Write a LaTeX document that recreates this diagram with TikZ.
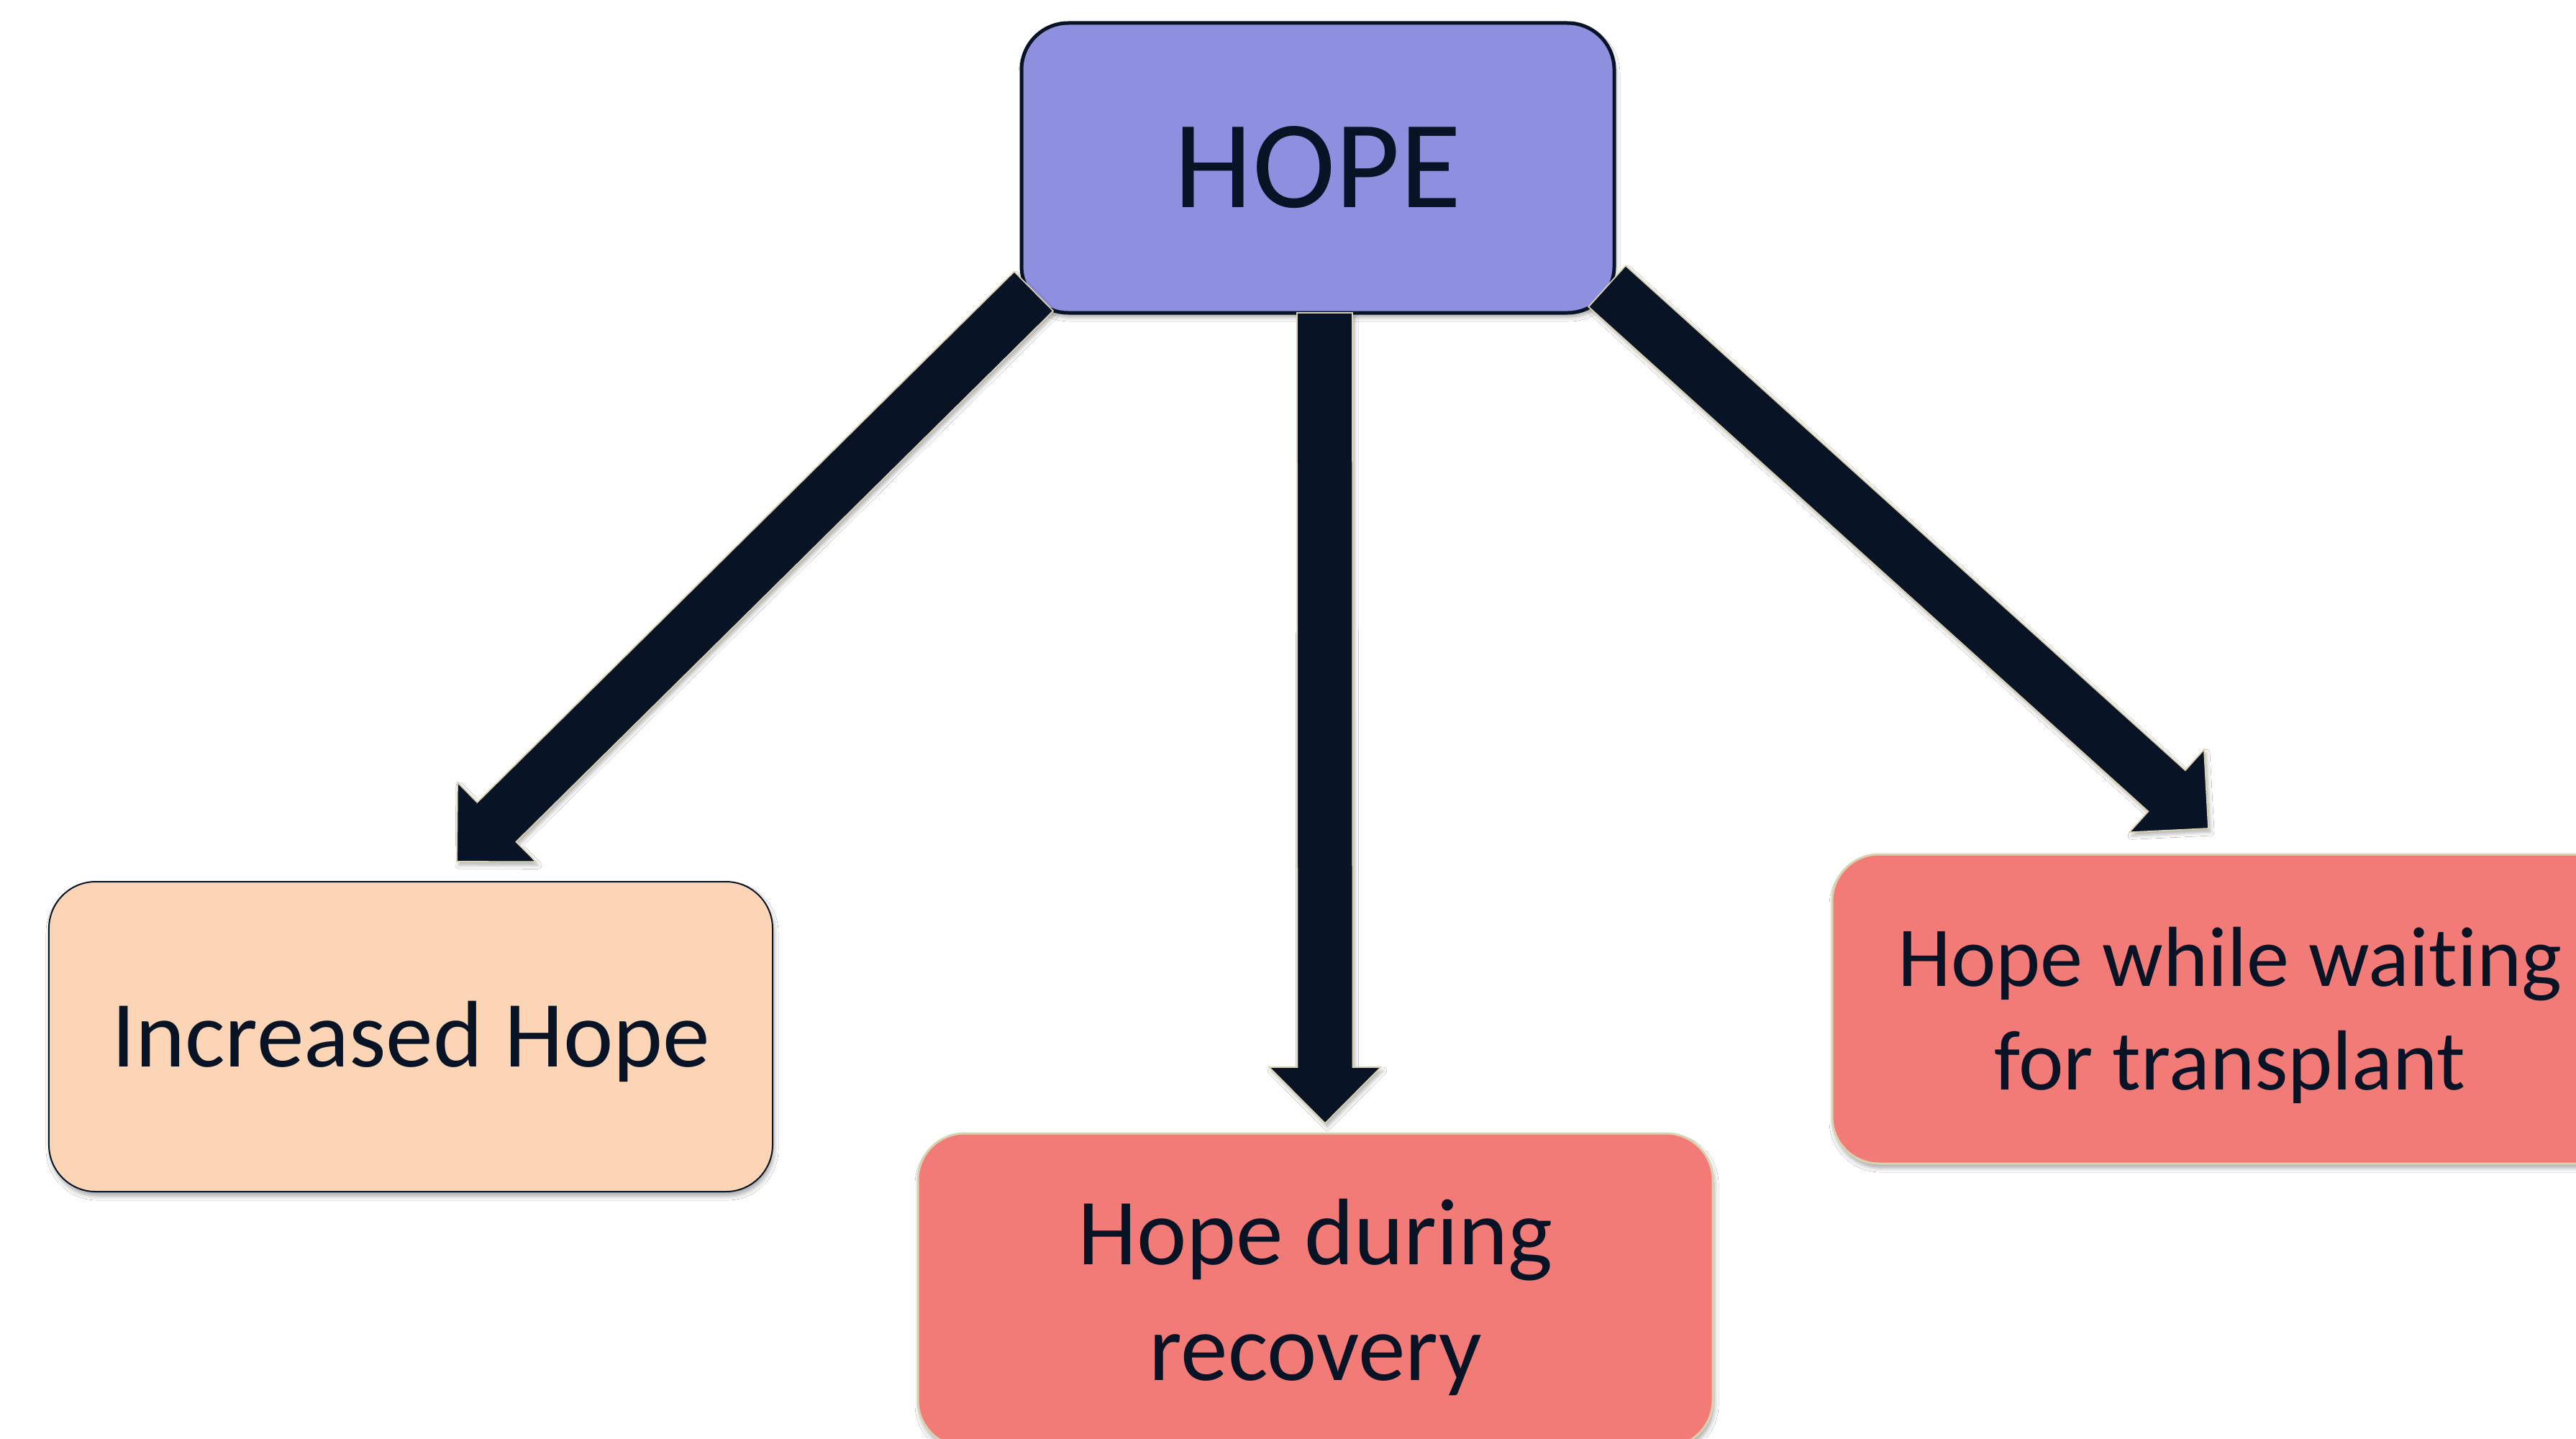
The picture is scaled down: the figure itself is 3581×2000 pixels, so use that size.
\documentclass[tikz,border=0pt]{standalone}
\usepackage{fontspec}
\setmainfont{Carlito}[Ligatures=NoCommon]
\usetikzlibrary{calc,shadows.blur}
\definecolor{navy}{HTML}{081426}
\definecolor{beige}{HTML}{D8D2B0}
\definecolor{hopefill}{HTML}{8F8FE0}
\definecolor{incfill}{HTML}{FBD5B5}
\definecolor{redfill}{HTML}{F37B77}
\tikzset{
  box/.style={rectangle, rounded corners=13pt, outer sep=0pt, inner sep=0pt, align=center, text=navy,
    blur shadow={shadow xshift=0.4pt, shadow yshift=-1.2pt, shadow blur steps=6, shadow opacity=35, shadow blur radius=1.2pt}},
  boxtext/.style={align=center, text=navy, inner sep=0pt},
  arrowsty/.style={fill=navy, draw=beige, line width=0.35pt, line join=miter,
    blur shadow={shadow xshift=0.6pt, shadow yshift=-1pt, shadow blur steps=5, shadow opacity=30, shadow blur radius=1pt}},
}
\newcommand\blkarrow[2]{%
  \coordinate (bA) at ($(#2)!15.6pt!(#1)$);
  \draw[arrowsty] ($(#1)!7.7pt!90:(#2)$) -- ($(bA)!7.7pt!90:(#2)$) -- ($(bA)!15.5pt!90:(#2)$) -- (#2)
    -- ($(bA)!15.5pt!-90:(#2)$) -- ($(bA)!7.7pt!-90:(#2)$) -- ($(#1)!7.7pt!-90:(#2)$) -- cycle;}
\begin{document}
\begin{tikzpicture}[x=0.2pt,y=-0.2pt]
\clip (0,0) rectangle (3581,2000);
\fill[white] (0,0) rectangle (3581,2000);
\node[box, fill=hopefill, draw=navy, line width=1pt, minimum width=164.8pt, minimum height=80.6pt,
  font=\fontsize{34.8pt}{42pt}\selectfont, text height=22pt, text depth=0pt] (hope) at (1832,233.5) {HOPE};
\node[box, fill=incfill, draw=navy, line width=0.4pt, minimum width=201.2pt, minimum height=86.2pt,
  font=\fontsize{26.3pt}{32.2pt}\selectfont, text height=16.6pt, text depth=0pt] (inc) at (571,1441.5) {Increased Hope};
\node[box, fill=redfill, draw=beige, line width=0.6pt, minimum width=221pt, minimum height=87.2pt,
  label={[boxtext, font=\fontsize{26.3pt}{32.2pt}\selectfont, yshift=-2pt]center:{Hope during\\recovery}}] (rec) at (1828.5,1794) {};
\node[box, fill=redfill, draw=beige, line width=0.6pt, minimum width=221.2pt, minimum height=86pt,
  label={[boxtext, font=\fontsize{23.7pt}{28.8pt}\selectfont, yshift=-1.8pt]center:{Hope while waiting\\for transplant}}] (wait) at (3100,1403) {};
\coordinate (t1) at ($(hope.south west)+(17,-30)$);
\coordinate (h1) at ($(inc.north)+(64,-28)$);
\coordinate (t2) at ($(hope.south)+(9.5,0)$);
\coordinate (h2) at ($(rec.north)+(13.5,-14)$);
\coordinate (t3) at ($(hope.south east)+(-10,-37)$);
\coordinate (h3) at ($(wait.north)+(-30,-36)$);
\blkarrow{t1}{h1}
\blkarrow{t2}{h2}
\blkarrow{t3}{h3}
\end{tikzpicture}
\end{document}
